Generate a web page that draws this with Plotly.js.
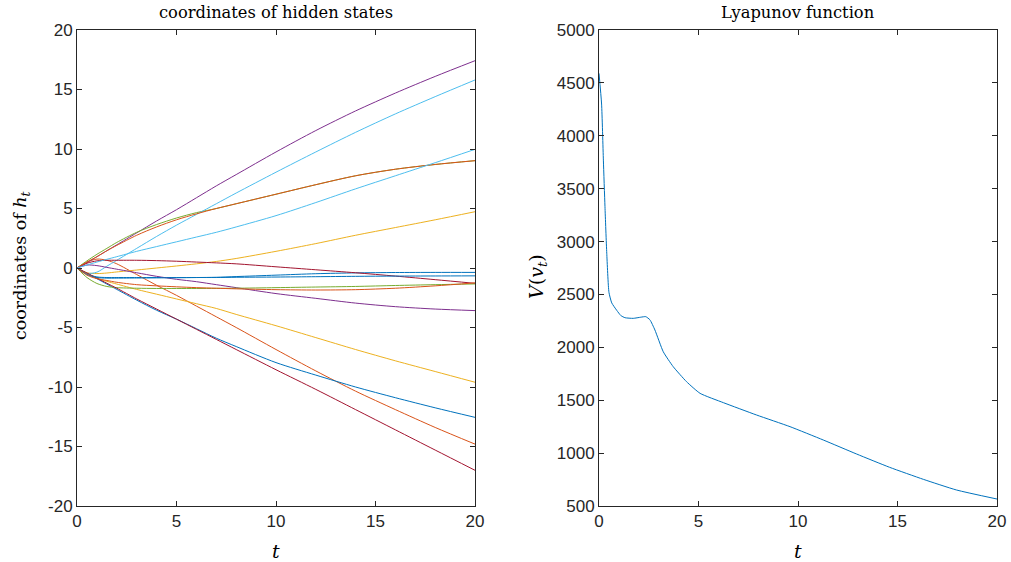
<!DOCTYPE html>
<html>
<head>
<meta charset="utf-8">
<script src="https://cdn.plot.ly/plotly-3.0.1.min.js"></script>
<style>html,body{margin:0;padding:0;background:#fff}#chart{width:1011px;height:562px}</style>
</head>
<body>
<div id="chart"></div>
<script>
// ---- data: hidden-state coordinates (left panel) ----
const tH = [0, 0.5, 1, 1.5, 2, 3, 4, 5, 6, 7, 8, 10, 12, 14, 16, 18, 20];
const h01 = [0,-0.5,-0.75,-0.8,-0.8,-0.8,-0.8,-0.8,-0.8,-0.78,-0.72,-0.6,-0.48,-0.41,-0.38,-0.37,-0.37];
const h02 = [0,0.5,0.75,0.65,0.35,-0.55,-1.45,-2.3,-3.2,-4.1,-5.0,-6.85,-8.65,-10.35,-11.9,-13.4,-14.8];
const h03 = [0,-0.4,-0.47,-0.42,-0.33,-0.17,0.0,0.17,0.35,0.55,0.8,1.4,2.05,2.75,3.4,4.05,4.73];
const h04 = [0,0.45,0.95,1.45,1.95,2.95,3.95,4.9,5.9,6.9,7.85,9.75,11.55,13.2,14.7,16.1,17.42];
const h05 = [0,0.6,1.15,1.65,2.15,3.0,3.65,4.2,4.65,5.0,5.4,6.2,7.0,7.75,8.3,8.7,9.02];
const h06 = [0,-0.45,-0.35,0.15,0.65,1.65,2.65,3.6,4.5,5.4,6.3,8.05,9.75,11.4,12.95,14.4,15.8];
const h07 = [0,0.4,0.6,0.65,0.65,0.65,0.62,0.57,0.5,0.43,0.35,0.1,-0.15,-0.4,-0.68,-0.98,-1.29];
const h08 = [0,-0.45,-0.9,-1.35,-1.8,-2.7,-3.55,-4.3,-5.1,-5.9,-6.6,-7.95,-9.0,-10.0,-10.9,-11.75,-12.55];
const h09 = [0,0.5,0.95,1.45,1.9,2.75,3.45,4.05,4.55,5.0,5.4,6.2,7.0,7.75,8.3,8.7,9.02];
const h10 = [0,-0.45,-0.85,-1.12,-1.35,-1.8,-2.2,-2.6,-3.0,-3.4,-3.9,-4.85,-5.85,-6.85,-7.8,-8.7,-9.6];
const h11 = [0,0.25,0.2,0.05,-0.1,-0.4,-0.7,-0.95,-1.15,-1.4,-1.65,-2.15,-2.55,-2.95,-3.25,-3.45,-3.58];
const h12 = [0,-0.8,-1.3,-1.55,-1.65,-1.7,-1.72,-1.72,-1.72,-1.71,-1.7,-1.65,-1.6,-1.55,-1.47,-1.4,-1.34];
const h13 = [0,0.25,0.5,0.73,0.95,1.4,1.8,2.2,2.6,3.0,3.45,4.4,5.5,6.65,7.75,8.85,9.97];
const h14 = [0,-0.42,-0.85,-1.28,-1.7,-2.6,-3.45,-4.3,-5.15,-6.0,-6.85,-8.55,-10.2,-11.9,-13.6,-15.3,-17.0];
const h15 = [0,-0.55,-0.8,-0.85,-0.85,-0.84,-0.83,-0.82,-0.8,-0.8,-0.78,-0.76,-0.73,-0.7,-0.68,-0.67,-0.66];
const h16 = [0,-0.6,-0.9,-1.05,-1.2,-1.4,-1.5,-1.58,-1.65,-1.7,-1.75,-1.82,-1.85,-1.82,-1.7,-1.5,-1.25];

// ---- data: Lyapunov function (right panel) ----
const tV = [0,0.13,0.22,0.3,0.39,0.5,0.64,0.89,1.1,1.31,1.72,2.1,2.35,2.56,2.81,3.23,3.73,4.4,5.08,6.25,7.92,9.6,11.27,12.95,14.6,16.3,17.97,20];
const V  = [4590,4300,3770,3330,2890,2520,2420,2350,2300,2280,2274,2285,2290,2260,2164,1958,1817,1675,1565,1477,1360,1250,1124,991,866,752,651,566];

// ---- tick labels ----
const xTicks = [0,5,10,15,20];
const xTickText = ['0','5','10','15','20'];
const yTicksL = [-20,-15,-10,-5,0,5,10,15,20];
const yTickTextL = ['-20','-15','-10','-5','0','5','10','15','20'];
const yTicksR = [500,1000,1500,2000,2500,3000,3500,4000,4500,5000];
const yTickTextR = ['500','1000','1500','2000','2500','3000','3500','4000','4500','5000'];

const colors = ['#0072BD','#D95319','#EDB120','#7E2F8E','#77AC30','#4DBEEE','#A2142F'];
const series = [h01,h02,h03,h04,h05,h06,h07,h08,h09,h10,h11,h12,h13,h14,h15,h16];

const traces = series.map((s,i)=>({
  x: tH, y: s, type:'scatter', mode:'lines', xaxis:'x', yaxis:'y',
  line:{color:colors[i%7], width:1, shape:'spline', smoothing:0.8},
  hoverinfo:'skip', showlegend:false
}));
traces.push({x:tV, y:V, type:'scatter', mode:'lines', xaxis:'x2', yaxis:'y2',
  line:{color:'#0072BD', width:1, shape:'spline', smoothing:0.5}, showlegend:false});

const axBase = {
  showgrid:false, zeroline:false, showline:true, mirror:'ticks', linecolor:'#262626', linewidth:1,
  ticks:'inside', ticklen:5, tickcolor:'#262626', tickwidth:1,
  tickfont:{family:'Liberation Sans, Arial, sans-serif', size:17, color:'#262626'}
};
const yBot = (562-506)/562, yTop = (562-30)/562;

const layout = {
  width:1011, height:562, margin:{l:0,r:0,t:0,b:0}, paper_bgcolor:'#fff', plot_bgcolor:'#fff',
  xaxis: Object.assign({}, axBase, {domain:[77/1011, 475/1011], range:[0,20], tickvals:xTicks, ticktext:xTickText}),
  yaxis: Object.assign({}, axBase, {domain:[yBot,yTop], range:[-20,20], tickvals:yTicksL, ticktext:yTickTextL}),
  xaxis2: Object.assign({}, axBase, {domain:[599/1011, 997/1011], range:[0,20], tickvals:xTicks, ticktext:xTickText, anchor:'y2'}),
  yaxis2: Object.assign({}, axBase, {domain:[yBot,yTop], range:[500,5000], tickvals:yTicksR, ticktext:yTickTextR, anchor:'x2'}),
  annotations: [
    {text:'coordinates of hidden states', x:276/1011, y:1-13/562, xref:'paper', yref:'paper', showarrow:false, xanchor:'center', yanchor:'middle', font:{family:'DejaVu Serif, serif', size:16.3, color:'#000'}},
    {text:'Lyapunov function', x:798/1011, y:1-13/562, xref:'paper', yref:'paper', showarrow:false, xanchor:'center', yanchor:'middle', font:{family:'DejaVu Serif, serif', size:16.3, color:'#000'}},
    {text:'<i>t</i>', x:276/1011, y:1-551/562, xref:'paper', yref:'paper', showarrow:false, xanchor:'center', yanchor:'middle', font:{family:'DejaVu Serif, serif', size:19, color:'#000'}},
    {text:'<i>t</i>', x:798/1011, y:1-551/562, xref:'paper', yref:'paper', showarrow:false, xanchor:'center', yanchor:'middle', font:{family:'DejaVu Serif, serif', size:19, color:'#000'}},
    {text:'coordinates of <i>h</i><sub><i>t</i></sub>', x:22/1011, y:1-266/562, xref:'paper', yref:'paper', showarrow:false, textangle:-90, xanchor:'center', yanchor:'middle', font:{family:'DejaVu Serif, serif', size:17.5, color:'#000'}},
    {text:'<i>V</i>(<i>v</i><sub><i>t</i></sub>)', x:537/1011, y:1-277/562, xref:'paper', yref:'paper', showarrow:false, textangle:-90, xanchor:'center', yanchor:'middle', font:{family:'DejaVu Serif, serif', size:19, color:'#000'}}
  ]
};
Plotly.newPlot('chart', traces, layout, {staticPlot:true, displayModeBar:false});
</script>
</body>
</html>
